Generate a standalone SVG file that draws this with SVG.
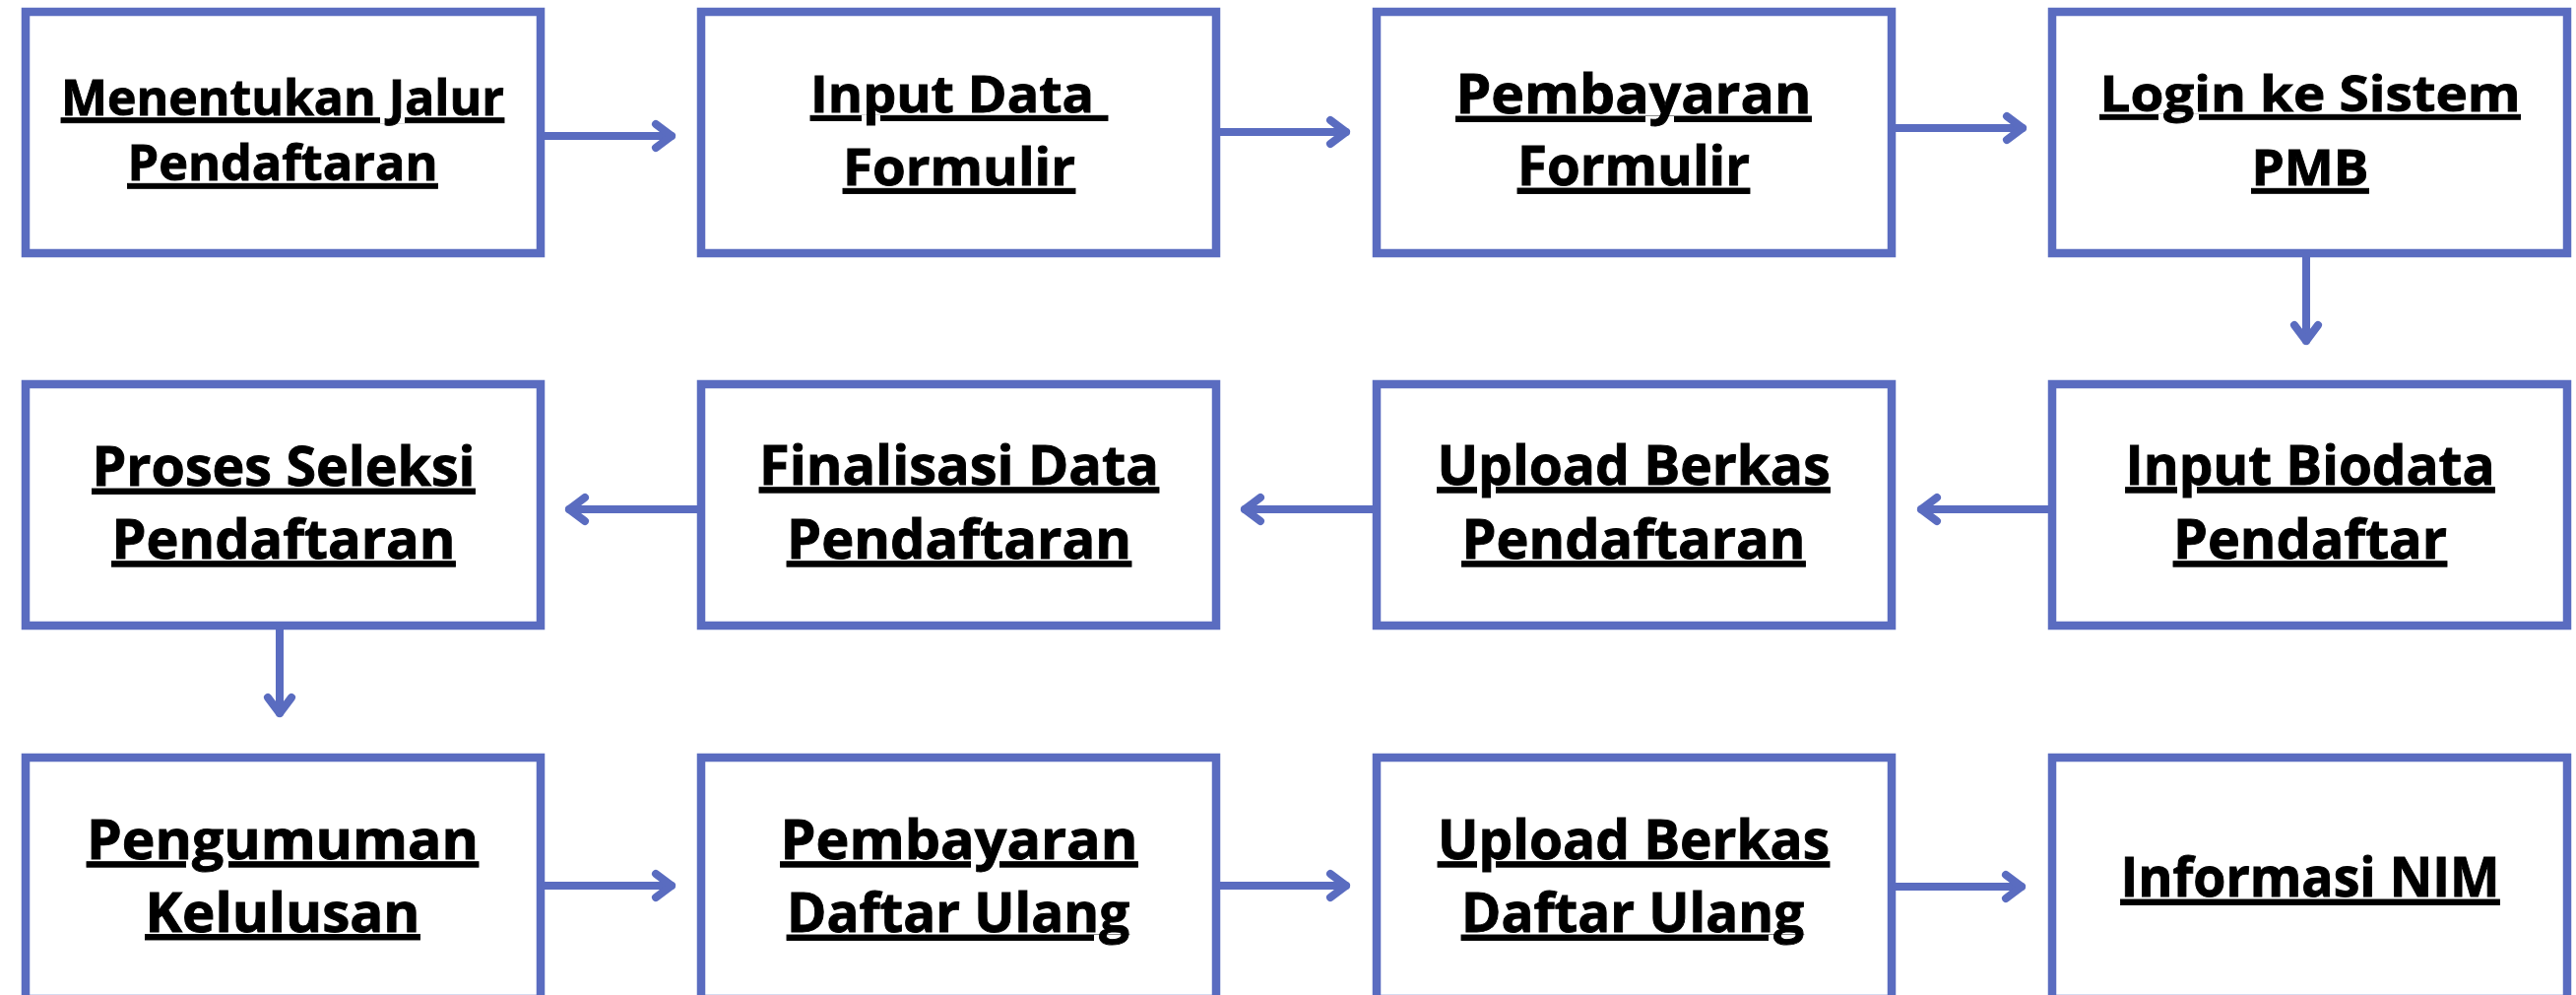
<svg xmlns="http://www.w3.org/2000/svg" width="2616" height="1010" viewBox="0 0 2616 1010">
<style>
.box{fill:#fff;stroke:#5A6CC0;stroke-width:8.5}
.t{font-family:"Open Sans","Liberation Sans",sans-serif;font-weight:700;fill:#000;stroke:#000;stroke-width:0.9;text-anchor:middle;text-decoration:underline;white-space:pre}
.s50{font-size:50px}.s52{font-size:52px}.s55{font-size:55px}
.con line{stroke:#5A6CC0;stroke-width:8;stroke-linecap:round;marker-end:url(#ah)}
</style>
<defs>
<marker id="ah" viewBox="-24 -20 30 40" refX="0" refY="0" markerWidth="30" markerHeight="40" markerUnits="userSpaceOnUse" orient="auto">
<path d="M-16,-12 L0,0 L-16,12" fill="none" stroke="#5A6CC0" stroke-width="8" stroke-linecap="round" stroke-linejoin="round"/>
</marker>
</defs>
<rect width="2616" height="1010" fill="#fff"/>
<g id="n1"><rect class="box" x="26" y="12" width="523" height="245"/>
<text class="t s50" x="287" y="116.7" textLength="450" lengthAdjust="spacingAndGlyphs">Menentukan Jalur</text>
<text class="t s50" x="287" y="183.3" textLength="315" lengthAdjust="spacingAndGlyphs">Pendaftaran</text></g>
<g id="n2"><rect class="box" x="712" y="12" width="523" height="245"/>
<text class="t s52" x="974" y="114.3" textLength="302" lengthAdjust="spacingAndGlyphs">Input Data </text>
<text class="t s52" x="974" y="188.3" textLength="236" lengthAdjust="spacingAndGlyphs">Formulir</text></g>
<g id="n3"><rect class="box" x="1398" y="12" width="523" height="245"/>
<text class="t s55" x="1659" y="115" textLength="361" lengthAdjust="spacingAndGlyphs">Pembayaran</text>
<text class="t s55" x="1659" y="188" textLength="236" lengthAdjust="spacingAndGlyphs">Formulir</text></g>
<g id="n4"><rect class="box" x="2084" y="12" width="523" height="245"/>
<text class="t s50" x="2346" y="113.3" textLength="427" lengthAdjust="spacingAndGlyphs">Login ke Sistem</text>
<text class="t s50" x="2346" y="188.3" textLength="119" lengthAdjust="spacingAndGlyphs">PMB</text></g>
<g id="n5"><rect class="box" x="26" y="390" width="523" height="245"/>
<text class="t s55" x="288" y="493" textLength="389" lengthAdjust="spacingAndGlyphs">Proses Seleksi</text>
<text class="t s55" x="288" y="566.7" textLength="349" lengthAdjust="spacingAndGlyphs">Pendaftaran</text></g>
<g id="n6"><rect class="box" x="712" y="390" width="523" height="245"/>
<text class="t s55" x="974" y="491.7" textLength="406" lengthAdjust="spacingAndGlyphs">Finalisasi Data</text>
<text class="t s55" x="974" y="566.7" textLength="350" lengthAdjust="spacingAndGlyphs">Pendaftaran</text></g>
<g id="n7"><rect class="box" x="1398" y="390" width="523" height="245"/>
<text class="t s55" x="1659" y="491.7" textLength="399" lengthAdjust="spacingAndGlyphs">Upload Berkas</text>
<text class="t s55" x="1659" y="566.7" textLength="349" lengthAdjust="spacingAndGlyphs">Pendaftaran</text></g>
<g id="n8"><rect class="box" x="2084" y="390" width="523" height="245"/>
<text class="t s55" x="2346" y="491.7" textLength="375" lengthAdjust="spacingAndGlyphs">Input Biodata</text>
<text class="t s55" x="2346" y="566.7" textLength="278" lengthAdjust="spacingAndGlyphs">Pendaftar</text></g>
<g id="n9"><rect class="box" x="26" y="769" width="523" height="245"/>
<text class="t s55" x="287" y="871.7" textLength="398" lengthAdjust="spacingAndGlyphs">Pengumuman</text>
<text class="t s55" x="287" y="945.5" textLength="279" lengthAdjust="spacingAndGlyphs">Kelulusan</text></g>
<g id="n10"><rect class="box" x="712" y="769" width="523" height="245"/>
<text class="t s55" x="974" y="871.7" textLength="363" lengthAdjust="spacingAndGlyphs">Pembayaran</text>
<text class="t s55" x="973" y="946" textLength="348" lengthAdjust="spacingAndGlyphs">Daftar Ulang</text></g>
<g id="n11"><rect class="box" x="1398" y="769" width="523" height="245"/>
<text class="t s55" x="1659" y="871.7" textLength="398" lengthAdjust="spacingAndGlyphs">Upload Berkas</text>
<text class="t s55" x="1658" y="946" textLength="348" lengthAdjust="spacingAndGlyphs">Daftar Ulang</text></g>
<g id="n12"><rect class="box" x="2084" y="769" width="523" height="245"/>
<text class="t s55" x="2346" y="910" textLength="385" lengthAdjust="spacingAndGlyphs">Informasi NIM</text></g>
<g id="connectors" class="con">
<line x1="553" y1="138" x2="682" y2="138"/>
<line x1="1239" y1="134" x2="1367" y2="134"/>
<line x1="1925" y1="130" x2="2054" y2="130"/>
<line x1="2342" y1="261" x2="2342" y2="346"/>
<line x1="2080" y1="517" x2="1951" y2="517"/>
<line x1="1394" y1="517" x2="1264" y2="517"/>
<line x1="708" y1="517" x2="578" y2="517"/>
<line x1="284" y1="639" x2="284" y2="724"/>
<line x1="553" y1="899" x2="682" y2="899"/>
<line x1="1239" y1="899" x2="1367" y2="899"/>
<line x1="1925" y1="900" x2="2053" y2="900"/>
</g>
</svg>
